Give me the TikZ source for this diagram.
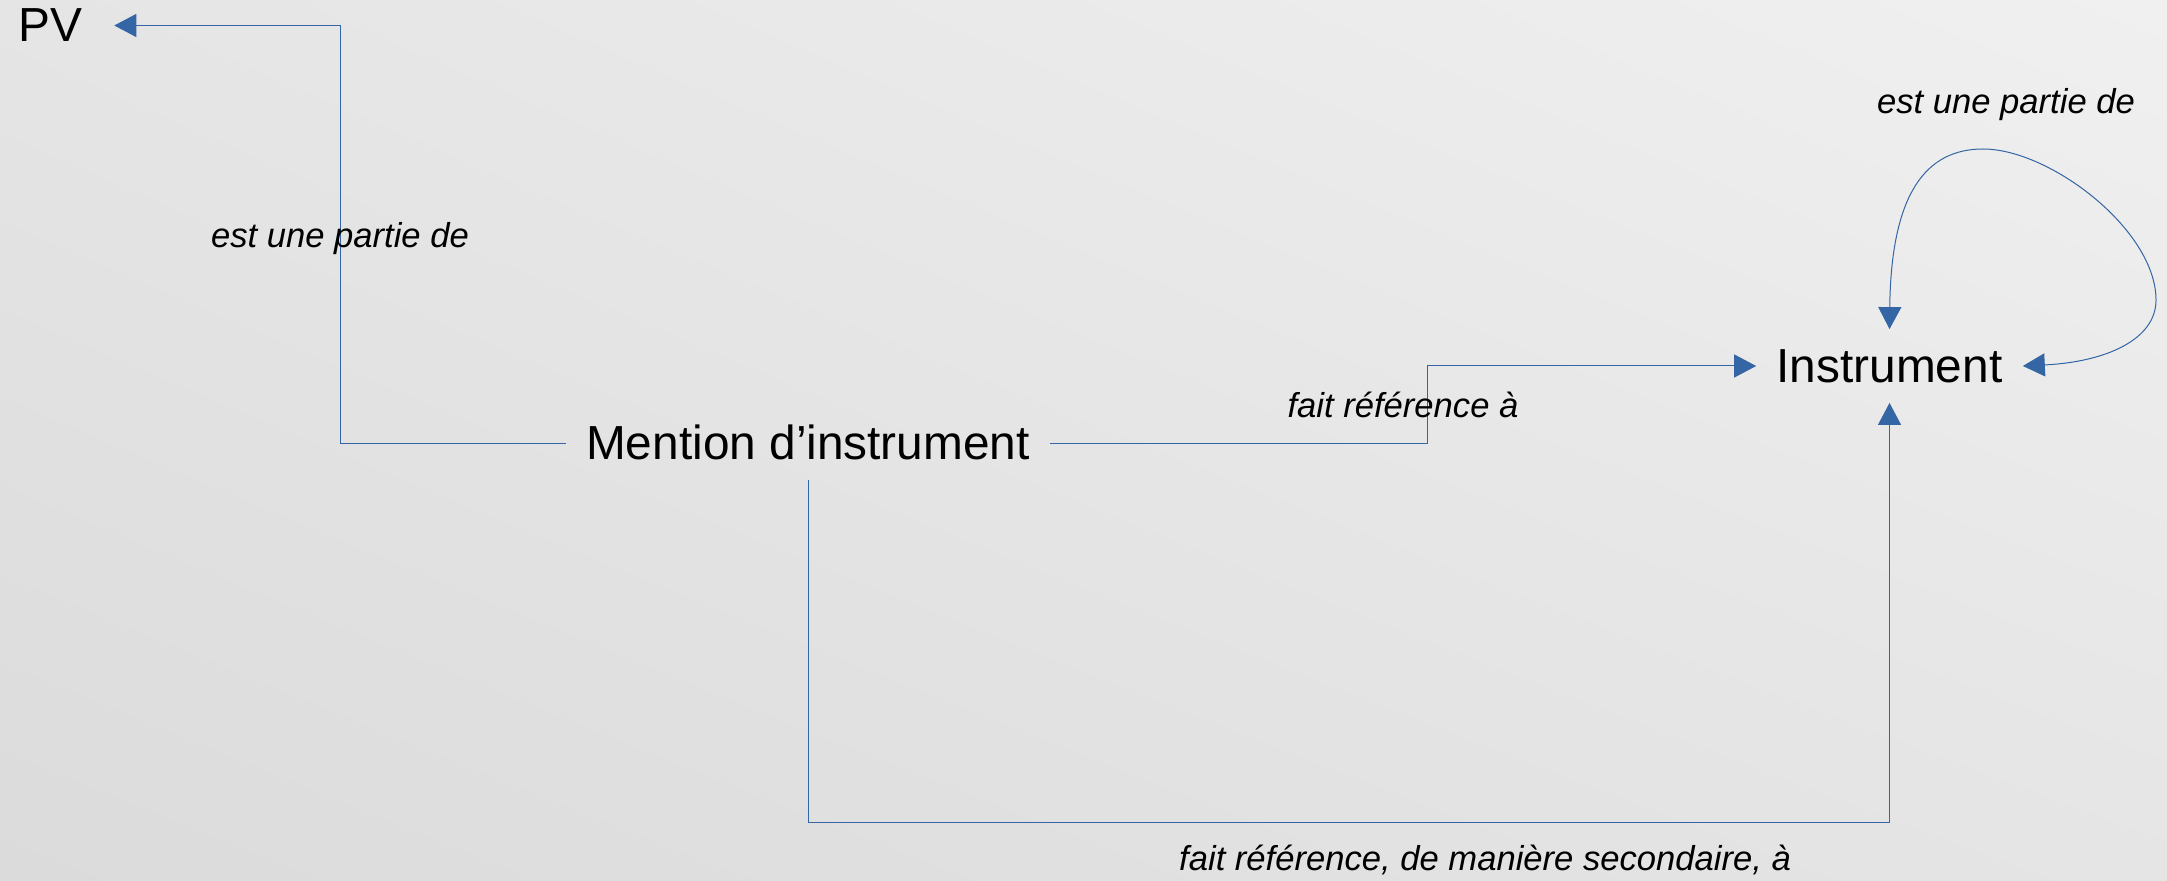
\documentclass[tikz,border=0pt]{standalone}
\usepackage{fontspec}
\setmainfont{Liberation Sans}
\usetikzlibrary{arrows.meta,shadings}
\definecolor{linkblue}{HTML}{3465A4}
\definecolor{bgdark}{HTML}{DBDBDB}
\definecolor{bgmid}{HTML}{E5E5E5}
\definecolor{bglight}{HTML}{F0F0F0}
\begin{document}
\begin{tikzpicture}[
    x=0.5pt, y=-0.5pt,
    concept/.style={inner sep=10pt, text height=16.5pt, text depth=0pt, font=\fontsize{23.9}{28}\selectfont},
    lbl/.style={inner sep=0pt, font=\fontsize{17.3}{21}\selectfont\itshape},
    link/.style={draw=linkblue, line width=0.5pt, -{Triangle[length=11pt, width=11.5pt]}}
]
% Background
\shade[lower left=bgdark, lower right=bgmid, upper left=bgmid, upper right=bglight] (0,0) rectangle (2167,881);
\useasboundingbox (0,0) rectangle (2167,881);

% Concepts
\node[concept, inner xsep=16pt] (pv) at (50,25.5) {PV};
\node[concept] (mention) at (808,443.5) {Mention d’instrument};
\node[concept] (instrument) at (1889.5,366) {Instrument};

% Links
\draw[link] (mention.west) -| node[lbl, pos=0.75, yshift=-2pt] (partPV) {est une partie de} (340,25.5) -- (pv.east);
\draw[link] (mention.east) -| node[lbl, pos=0.75, xshift=-12pt] (refMain) {fait référence à} (1427,366) -- (instrument.west);
\draw[link] (mention.south) -- (808,822) -| node[lbl, pos=0.313, yshift=-19pt] (refSec) {fait référence, de manière secondaire, à} (instrument.south);

% Self loop
\draw[link, {Triangle[length=11pt, width=11.5pt]}-{Triangle[length=11pt, width=11.5pt]}] (instrument.north)
    .. controls (1891,195) and (1925,149) .. (1983,149)
    .. controls (2050,149) and (2156,230) .. (2156,300)
    .. controls (2156,340) and (2105,362) .. (instrument.east);
\node[lbl, yshift=-2pt] (partSelf) at (2006,101) {est une partie de};

\end{tikzpicture}
\end{document}
